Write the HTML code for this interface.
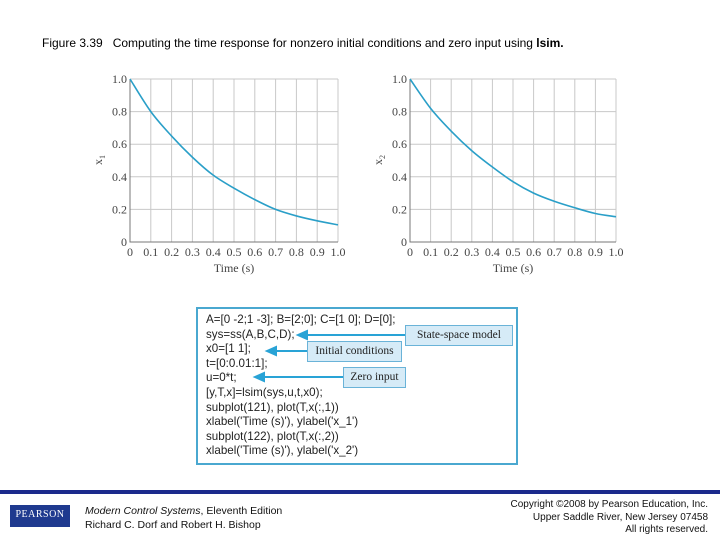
<!DOCTYPE html>
<html><head><meta charset="utf-8"><style>
body{margin:0;width:720px;height:540px;background:#fff;position:relative;overflow:hidden;font-family:"Liberation Sans",sans-serif}
.abs{position:absolute}
.code{position:absolute;left:206px;font-size:11.6px;color:#222;white-space:pre;line-height:14.6px;top:313px}
.call{position:absolute;background:#d6ebf7;border:1px solid #6ab3d8;font-family:"Liberation Serif",serif;font-size:11.5px;color:#222;text-align:center;line-height:19px;height:19px}
</style></head><body>
<div class="abs" style="left:42px;top:36px;font-size:12px;color:#000">Figure 3.39&nbsp;&nbsp; Computing the time response for nonzero initial conditions and zero input using <b>lsim.</b></div>
<svg class="abs" style="left:0;top:0" width="720" height="290">
<g id="p1"></g>
<g id="p2"></g>
</svg>
<div class="abs" style="left:196px;top:307px;width:322px;height:158px;border:2px solid #4aa8d0;box-sizing:border-box"></div>
<div class="code">A=[0 -2;1 -3]; B=[2;0]; C=[1 0]; D=[0];
sys=ss(A,B,C,D);
x0=[1 1];
t=[0:0.01:1];
u=0*t;
[y,T,x]=lsim(sys,u,t,x0);
subplot(121), plot(T,x(:,1))
xlabel('Time (s)'), ylabel('x_1')
subplot(122), plot(T,x(:,2))
xlabel('Time (s)'), ylabel('x_2')</div>
<svg class="abs" style="left:0;top:0" width="720" height="480">
<g stroke="#29a3d6" stroke-width="2" fill="#29a3d6">
<line x1="305" y1="335" x2="405" y2="335"/><polygon points="298,335 307,331 307,339"/>
<line x1="274" y1="351" x2="307" y2="351"/><polygon points="267,351 276,347 276,355"/>
<line x1="262" y1="377" x2="343" y2="377"/><polygon points="255,377 264,373 264,381"/>
</g></svg>
<div class="call" style="left:405px;top:325px;width:106px">State-space model</div>
<div class="call" style="left:307px;top:341px;width:93px">Initial conditions</div>
<div class="call" style="left:343px;top:367px;width:61px">Zero input</div>
<div class="abs" style="left:0;top:490px;width:720px;height:4px;background:#1b2a8c"></div>
<div class="abs" style="left:10px;top:505px;width:60px;height:22px;background:#1f3a8f;color:#fff;font-family:'Liberation Serif',serif;font-size:10px;text-align:center;line-height:20px;letter-spacing:0.5px">PEARSON</div>
<div class="abs" style="left:85px;top:505px;font-size:10.5px;line-height:13.5px;color:#111"><i>Modern Control Systems</i>, Eleventh Edition<br>Richard C. Dorf and Robert H. Bishop</div>
<div class="abs" style="right:12px;top:499px;font-size:10px;line-height:12.5px;color:#111;text-align:right">Copyright ©2008 by Pearson Education, Inc.<br>Upper Saddle River, New Jersey 07458<br>All rights reserved.</div>
<script>
const tVals=[0,0.1,0.2,0.3,0.4,0.5,0.6,0.7,0.8,0.9,1.0];
const x1Vals=[1.0,0.80,0.65,0.52,0.41,0.33,0.26,0.20,0.16,0.13,0.105];
const x2Vals=[1.0,0.82,0.68,0.56,0.46,0.37,0.30,0.25,0.21,0.175,0.155];
const xTicks=["0","0.1","0.2","0.3","0.4","0.5","0.6","0.7","0.8","0.9","1.0"];
const yTicks=[0,0.2,0.4,0.6,0.8,1.0];
const yTickLabels=["0","0.2","0.4","0.6","0.8","1.0"];
const NS="http://www.w3.org/2000/svg";
function mk(tag,attrs,parent){const e=document.createElementNS(NS,tag);for(const k in attrs)e.setAttribute(k,attrs[k]);parent.appendChild(e);return e;}
function draw(g,x0,x1,vals,lab,sub){
  const y0=242,yTop=79;
  const sx=t=>x0+t*(x1-x0), sy=v=>y0-v*(y0-yTop);
  for(const t of tVals){const l=mk('line',{x1:sx(t),x2:sx(t),y1:yTop,y2:y0,stroke:'#c8c8c8','stroke-width':1},g);}
  yTicks.forEach((v,i)=>{const l=mk('line',{x1:x0,x2:x1,y1:sy(v),y2:sy(v),stroke:'#c8c8c8','stroke-width':1},g);
    const tx=mk('text',{x:x0-3,y:sy(v)+4,'text-anchor':'end','font-size':12,'font-family':'Liberation Serif, serif',fill:'#444'},g);tx.textContent=yTickLabels[i];});
  xTicks.forEach((s,i)=>{const tx=mk('text',{x:sx(tVals[i]),y:256,'text-anchor':'middle','font-size':12,'font-family':'Liberation Serif, serif',fill:'#444'},g);tx.textContent=s;});
  const ax=mk('path',{d:`M${x0},${yTop}V${y0}H${x1}`,stroke:'#777',fill:'none','stroke-width':1},g);
  const pts=tVals.map((t,i)=>[sx(t),sy(vals[i])]);
  let d=`M${pts[0][0]},${pts[0][1]}`;
  for(let i=0;i<pts.length-1;i++){const p0=pts[Math.max(0,i-1)],p1=pts[i],p2=pts[i+1],p3=pts[Math.min(pts.length-1,i+2)];
    d+=`C${p1[0]+(p2[0]-p0[0])/6},${p1[1]+(p2[1]-p0[1])/6} ${p2[0]-(p3[0]-p1[0])/6},${p2[1]-(p3[1]-p1[1])/6} ${p2[0]},${p2[1]}`;}
  const ln=mk('path',{d,stroke:'#2a9fc8',fill:'none','stroke-width':1.6},g);
  const xt=mk('text',{x:(x0+x1)/2,y:272,'text-anchor':'middle','font-size':12,'font-family':'Liberation Serif, serif',fill:'#444'},g);xt.textContent='Time (s)';
  const yt=mk('text',{x:0,y:0,transform:`translate(${x0-28},160) rotate(-90)`,'text-anchor':'middle','font-size':12,'font-family':'Liberation Serif, serif',fill:'#444'},g);yt.textContent=lab;
  const ts=mk('tspan',{'font-size':8,dy:3},yt);ts.textContent=sub;
}
draw(document.getElementById('p1'),130,338,x1Vals,'x','1');
draw(document.getElementById('p2'),410,616,x2Vals,'x','2');
</script>
</body></html>
